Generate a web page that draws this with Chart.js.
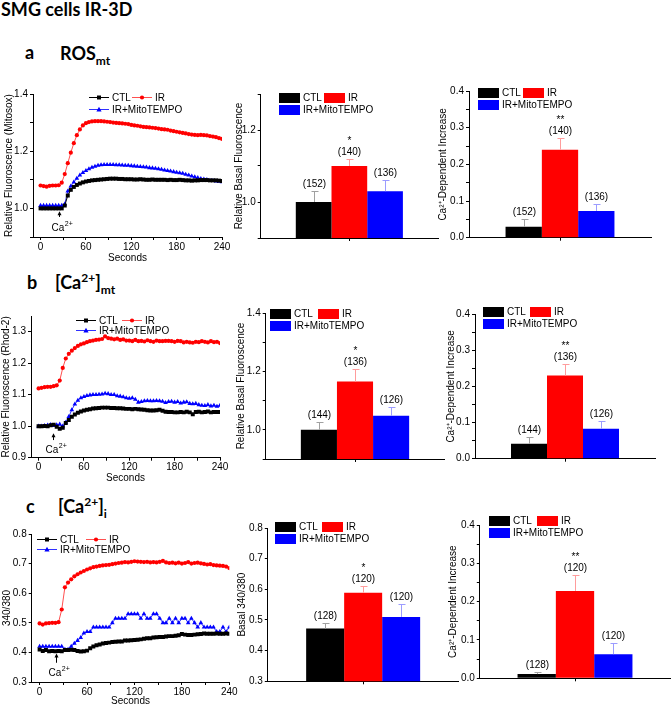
<!DOCTYPE html>
<html>
<head>
<meta charset="utf-8">
<title>SMG cells IR-3D</title>
<script src="https://cdn.jsdelivr.net/npm/chart.js@4.4.1/dist/chart.umd.min.js"></script>
<style>
  html, body { margin: 0; padding: 0; background: #fff; overflow: hidden; }
  #page { position: relative; width: 671px; height: 706px; }
  canvas { position: absolute; }
  .hd { position: absolute; font-family: Lato, "Open Sans", sans-serif; font-weight: 700; font-size: 18px; line-height: 1; color: #000; white-space: nowrap; }
  .hd sub, .hd sup { font-size: 12px; line-height: 0; }
</style>
</head>
<body>
<div id="page">
  <div class="hd" style="left:1px;top:0px">SMG cells IR-3D</div>
  <div class="hd" style="left:25px;top:43px">a</div>
  <div class="hd" style="left:60px;top:44px">ROS<sub>mt</sub></div>
  <div class="hd" style="left:27px;top:273px">b</div>
  <div class="hd" style="left:55px;top:273px">[Ca<sup>2+</sup>]<sub>mt</sub></div>
  <div class="hd" style="left:26px;top:497px">c</div>
  <div class="hd" style="left:58px;top:497px">[Ca<sup>2+</sup>]<sub>i</sub></div>
  <canvas id="a1"></canvas>
  <canvas id="a2"></canvas>
  <canvas id="a3"></canvas>
  <canvas id="b1"></canvas>
  <canvas id="b2"></canvas>
  <canvas id="b3"></canvas>
  <canvas id="c1"></canvas>
  <canvas id="c2"></canvas>
  <canvas id="c3"></canvas>
</div>
<script>
const groups = ['CTL', 'IR', 'IR+MitoTEMPO'];

const seconds = [0, 4, 8, 12, 16, 20, 24, 28, 32, 36, 40, 44, 48, 52, 56, 60, 64, 68, 72, 76,
  80, 84, 88, 92, 96, 100, 104, 108, 112, 116, 120, 124, 128, 132, 136, 140, 144, 148, 152, 156,
  160, 164, 168, 172, 176, 180, 184, 188, 192, 196, 200, 204, 208, 212, 216, 220, 224, 228, 232, 236, 240];
const timeTicks = [0, 30, 60, 90, 120, 150, 180, 210, 240];
const timeLabels = [0, 60, 120, 180, 240];

// a: ROSmt (Mitosox)
const rosCtl = [1.000, 1.000, 1.000, 1.000, 1.000, 1.000, 1.000, 1.000, 1.010, 1.045,
  1.065, 1.075, 1.082, 1.087, 1.091, 1.094, 1.096, 1.098, 1.099, 1.100,
  1.101, 1.102, 1.103, 1.104, 1.104, 1.104, 1.103, 1.103, 1.102, 1.102,
  1.102, 1.101, 1.101, 1.102, 1.101, 1.100, 1.100, 1.101, 1.100, 1.100,
  1.100, 1.100, 1.099, 1.100, 1.099, 1.099, 1.100, 1.099, 1.098, 1.098,
  1.097, 1.098, 1.098, 1.099, 1.099, 1.099, 1.098, 1.098, 1.098, 1.097, 1.096];
const rosIr = [1.080, 1.078, 1.076, 1.079, 1.080, 1.080, 1.081, 1.090, 1.120, 1.158,
  1.195, 1.228, 1.256, 1.276, 1.290, 1.298, 1.302, 1.304, 1.305, 1.305,
  1.305, 1.304, 1.303, 1.302, 1.300, 1.299, 1.298, 1.297, 1.296, 1.295,
  1.292, 1.290, 1.289, 1.287, 1.285, 1.284, 1.283, 1.282, 1.281, 1.279,
  1.277, 1.276, 1.275, 1.272, 1.270, 1.268, 1.266, 1.264, 1.262, 1.260,
  1.258, 1.257, 1.256, 1.257, 1.256, 1.255, 1.253, 1.251, 1.249, 1.246, 1.243];
const rosMito = [1.010, 1.010, 1.010, 1.010, 1.010, 1.010, 1.010, 1.010, 1.015, 1.060,
  1.078, 1.092, 1.105, 1.116, 1.125, 1.132, 1.138, 1.143, 1.147, 1.150,
  1.152, 1.153, 1.153, 1.153, 1.153, 1.152, 1.152, 1.151, 1.150, 1.150,
  1.149, 1.148, 1.147, 1.146, 1.145, 1.144, 1.142, 1.141, 1.140, 1.138,
  1.136, 1.134, 1.132, 1.130, 1.128, 1.126, 1.124, 1.122, 1.119, 1.116,
  1.113, 1.110, 1.107, 1.104, 1.102, 1.100, 1.098, 1.097, 1.095, 1.094, 1.093];

// b: [Ca2+]mt (Rhod-2)
const mtCtl = [1.000, 1.000, 1.001, 1.000, 1.003, 1.005, 0.998, 0.992, 0.995, 1.010,
  1.020, 1.030, 1.037, 1.043, 1.047, 1.050, 1.052, 1.054, 1.056, 1.057,
  1.058, 1.059, 1.059, 1.059, 1.058, 1.058, 1.057, 1.057, 1.056, 1.055,
  1.055, 1.054, 1.055, 1.054, 1.053, 1.052, 1.051, 1.050, 1.050, 1.051,
  1.052, 1.049, 1.046, 1.045, 1.045, 1.044, 1.044, 1.045, 1.044, 1.046,
  1.044, 1.038, 1.045, 1.046, 1.044, 1.045, 1.047, 1.044, 1.045, 1.045, 1.045];
const mtIr = [1.120, 1.122, 1.124, 1.125, 1.125, 1.127, 1.130, 1.145, 1.185, 1.215,
  1.230, 1.240, 1.248, 1.255, 1.260, 1.263, 1.267, 1.270, 1.272, 1.274,
  1.275, 1.277, 1.285, 1.280, 1.278, 1.276, 1.278, 1.274, 1.276, 1.272,
  1.272, 1.270, 1.274, 1.270, 1.271, 1.269, 1.273, 1.270, 1.268, 1.272,
  1.270, 1.270, 1.271, 1.271, 1.270, 1.268, 1.271, 1.270, 1.266, 1.268,
  1.266, 1.265, 1.268, 1.267, 1.270, 1.268, 1.266, 1.270, 1.267, 1.268, 1.264];
const mtMito = [1.000, 1.000, 1.002, 1.003, 1.005, 1.002, 1.004, 1.006, 1.000, 1.012,
  1.030, 1.052, 1.070, 1.082, 1.090, 1.094, 1.097, 1.099, 1.100, 1.100,
  1.101, 1.102, 1.104, 1.103, 1.100, 1.100, 1.096, 1.095, 1.093, 1.090,
  1.088, 1.090, 1.085, 1.076, 1.078, 1.080, 1.081, 1.080, 1.080, 1.081,
  1.080, 1.079, 1.075, 1.078, 1.079, 1.076, 1.078, 1.073, 1.076, 1.077,
  1.072, 1.071, 1.072, 1.068, 1.066, 1.065, 1.068, 1.064, 1.066, 1.063, 1.066];

// c: [Ca2+]i (340/380)
const cytCtl = [0.410, 0.405, 0.408, 0.404, 0.405, 0.404, 0.405, 0.404, 0.408, 0.408,
  0.409, 0.408, 0.405, 0.403, 0.404, 0.406, 0.414, 0.420, 0.424, 0.427,
  0.430, 0.432, 0.433, 0.435, 0.436, 0.437, 0.437, 0.440, 0.440, 0.441,
  0.442, 0.443, 0.444, 0.446, 0.448, 0.448, 0.450, 0.451, 0.452, 0.452,
  0.454, 0.455, 0.455, 0.456, 0.458, 0.462, 0.460, 0.459, 0.459, 0.460,
  0.461, 0.462, 0.464, 0.463, 0.463, 0.463, 0.464, 0.463, 0.463, 0.464, 0.463];
const cytIr = [0.498, 0.494, 0.498, 0.499, 0.500, 0.500, 0.502, 0.545, 0.620, 0.636,
  0.647, 0.657, 0.664, 0.670, 0.675, 0.680, 0.684, 0.688, 0.690, 0.692,
  0.694, 0.695, 0.696, 0.698, 0.700, 0.702, 0.703, 0.705, 0.704, 0.706,
  0.708, 0.707, 0.706, 0.705, 0.706, 0.704, 0.705, 0.704, 0.706, 0.709,
  0.704, 0.702, 0.703, 0.701, 0.703, 0.700, 0.702, 0.705, 0.700, 0.702,
  0.703, 0.701, 0.699, 0.697, 0.698, 0.695, 0.694, 0.693, 0.692, 0.690, 0.685];
const cytMito = [0.420, 0.420, 0.420, 0.420, 0.420, 0.420, 0.420, 0.420, 0.410, 0.410,
  0.420, 0.430, 0.440, 0.450, 0.465, 0.470, 0.470, 0.485, 0.485, 0.485,
  0.485, 0.485, 0.485, 0.500, 0.515, 0.515, 0.515, 0.515, 0.530, 0.530,
  0.530, 0.530, 0.515, 0.530, 0.515, 0.515, 0.530, 0.530, 0.515, 0.500,
  0.500, 0.515, 0.500, 0.515, 0.500, 0.515, 0.515, 0.500, 0.515, 0.500,
  0.485, 0.500, 0.485, 0.485, 0.485, 0.485, 0.470, 0.470, 0.485, 0.470, 0.485];

// bar summaries
const aBasal = [1.00, 1.10, 1.03];
const aBasalErr = [0.03, 0.02, 0.03];
const aIncrease = [0.03, 0.24, 0.073];
const aIncreaseErr = [0.02, 0.031, 0.019];
const aCells = [152, 140, 136];
const bBasal = [1.00, 1.165, 1.048];
const bBasalErr = [0.028, 0.043, 0.03];
const bIncrease = [0.041, 0.23, 0.083];
const bIncreaseErr = [0.02, 0.031, 0.022];
const bCells = [144, 136, 126];
const cBasal = [0.472, 0.589, 0.51];
const cBasalErr = [0.019, 0.021, 0.043];
const cIncrease = [0.011, 0.228, 0.063];
const cIncreaseErr = [0.005, 0.041, 0.03];
const cCells = [128, 120, 120];
const basalStars = ['', '*', ''];
const increaseStars = ['', '**', ''];

const incTicks = [0, 0.05, 0.1, 0.15, 0.2, 0.25, 0.3, 0.35, 0.4];
const incLabels = [0, 0.1, 0.2, 0.3, 0.4];

const fills = ['#000000', '#ff0000', '#0000ff'];
const lineColors = ['#000000', '#ff5050', '#3030ff'];
const errColors = ['#a0a0a0', '#ff9c9c', '#9c9cff'];
const pointStyles = ['rect', 'circle', 'triangle'];
const pointRadii = [2.8, 2.1, 2.7];

const FONT = '"Liberation Sans", Arial, Helvetica, sans-serif';
Chart.defaults.font.family = FONT;
Chart.defaults.font.size = 10;
Chart.defaults.color = '#000';
Chart.defaults.animation = false;

function place(id, f) {
  const cv = document.getElementById(id);
  const cx = f.titleX - 6, cy = f.T - 14;
  const bottom = f.titleY ? f.titleY + 6 : f.B + 12;
  const w = Math.ceil(f.R + 16 - cx), h = Math.ceil(bottom - cy);
  cv.width = w; cv.height = h;
  cv.style.left = cx + 'px'; cv.style.top = cy + 'px';
  cv.style.width = w + 'px'; cv.style.height = h + 'px';
  return { cv, cx, cy, yW: f.L - cx, xH: h - (f.B - cy), padR: w - (f.R - cx) };
}

function yAxis(fr, min, max, ticks, majors, title) {
  return {
    min, max,
    afterBuildTicks: s => { s.ticks = ticks.map(v => ({ value: v })); },
    afterFit: s => { s.width = fr.yW; s.paddingTop = 0; s.paddingBottom = 0; },
    ticks: { autoSkip: false, padding: 2, color: '#000', callback: v => majors.includes(v) ? v.toFixed(1) : '' },
    grid: { drawOnChartArea: false, drawTicks: true, tickLength: 3, tickColor: '#000', tickWidth: 1 },
    border: { display: true, color: '#000', width: 1 },
    title: { display: true, text: title, padding: 0, color: '#000', font: { size: 10 } }
  };
}

function marker(ctx, style, x, y) {
  ctx.beginPath();
  if (style === 'rect') ctx.rect(x - 2, y - 2, 4, 4);
  else if (style === 'circle') ctx.arc(x, y, 2.1, 0, Math.PI * 2);
  else { ctx.moveTo(x, y - 2.8); ctx.lineTo(x + 2.6, y + 1.9); ctx.lineTo(x - 2.6, y + 1.9); ctx.closePath(); }
  ctx.fill();
}

function lineLegend(fr, pos) {
  return {
    id: 'lineLegend',
    afterDraw(chart) {
      const ctx = chart.ctx;
      ctx.save();
      ctx.font = '10px ' + FONT;
      ctx.textBaseline = 'middle';
      const rows = [[0, pos.x, pos.y], [1, pos.x + pos.irDx, pos.y], [2, pos.x, pos.y + pos.gap]];
      rows.forEach(([i, px, py]) => {
        const x = px - fr.cx, y = Math.round(py - fr.cy) + 0.5;
        ctx.strokeStyle = lineColors[i];
        ctx.lineWidth = 1;
        ctx.beginPath(); ctx.moveTo(x, y); ctx.lineTo(x + 20, y); ctx.stroke();
        ctx.fillStyle = fills[i];
        marker(ctx, pointStyles[i], x + 10, y);
        ctx.fillStyle = '#000';
        ctx.fillText(groups[i], x + 23, y + 0.5);
      });
      ctx.restore();
    }
  };
}

function caArrow(a) {
  return {
    id: 'caArrow',
    afterDraw(chart) {
      const { ctx, scales: { x, y } } = chart;
      const px = Math.round(x.getPixelForValue(a.t)) + 0.5;
      const y1 = y.getPixelForValue(a.head), y2 = y.getPixelForValue(a.tail);
      ctx.save();
      ctx.strokeStyle = '#000'; ctx.fillStyle = '#000'; ctx.lineWidth = 1;
      ctx.beginPath(); ctx.moveTo(px, y1 + 2); ctx.lineTo(px, y2); ctx.stroke();
      ctx.beginPath(); ctx.moveTo(px, y1); ctx.lineTo(px - 2, y1 + 4); ctx.lineTo(px + 2, y1 + 4); ctx.closePath(); ctx.fill();
      const ty = y.getPixelForValue(a.text);
      ctx.font = '10px ' + FONT; ctx.textBaseline = 'middle'; ctx.textAlign = 'left';
      const tx = px - 8;
      ctx.fillText('Ca', tx, ty);
      const w = ctx.measureText('Ca').width;
      ctx.font = '7px ' + FONT;
      ctx.fillText('2+', tx + w + 0.5, ty - 4);
      ctx.restore();
    }
  };
}

function barNotes(err, cells, stars) {
  return {
    id: 'barNotes',
    afterDatasetsDraw(chart) {
      const { ctx, scales: { y } } = chart;
      ctx.save();
      chart.data.datasets.forEach((ds, i) => {
        const bar = chart.getDatasetMeta(i).data[0];
        const v = ds.data[0];
        const x = Math.round(bar.x) + 0.5;
        const y0 = y.getPixelForValue(v);
        const y1 = Math.round(y.getPixelForValue(v + err[i])) + 0.5;
        ctx.strokeStyle = errColors[i]; ctx.lineWidth = 1;
        ctx.beginPath();
        ctx.moveTo(x, y0); ctx.lineTo(x, y1);
        ctx.moveTo(x - 3, y1); ctx.lineTo(x + 4, y1);
        ctx.stroke();
        ctx.fillStyle = '#000';
        ctx.font = '10px ' + FONT;
        ctx.textAlign = 'center';
        ctx.textBaseline = 'alphabetic';
        ctx.fillText('(' + cells[i] + ')', x, y1 - 5);
        if (stars[i]) ctx.fillText(stars[i], x, y1 - 16);
      });
      ctx.restore();
    }
  };
}

function barLegend(fr, pos) {
  return {
    id: 'barLegend',
    afterDraw(chart) {
      const ctx = chart.ctx;
      ctx.save();
      ctx.font = '10px ' + FONT;
      ctx.textBaseline = 'middle';
      const rows = [[0, pos.x, pos.y], [1, pos.x + pos.dx, pos.y], [2, pos.x, pos.y + 12]];
      rows.forEach(([i, px, py]) => {
        const x = Math.round(px - fr.cx), y = Math.round(py - fr.cy);
        ctx.fillStyle = fills[i];
        ctx.fillRect(x, y, 21, 10);
        ctx.fillStyle = '#000';
        ctx.fillText(groups[i], x + 24, y + 5.5);
      });
      ctx.restore();
    }
  };
}

function lineChart(id, f, o) {
  const fr = place(id, f);
  new Chart(fr.cv, {
    type: 'line',
    data: {
      datasets: o.series.map((s, i) => ({
        label: groups[i],
        data: seconds.map((t, k) => ({ x: t, y: s[k] })),
        borderColor: lineColors[i],
        backgroundColor: fills[i],
        pointBackgroundColor: fills[i],
        borderWidth: 1,
        pointStyle: pointStyles[i],
        pointRadius: pointRadii[i],
        pointBorderWidth: 0,
        tension: 0
      }))
    },
    options: {
      responsive: false, devicePixelRatio: 1, animation: false,
      layout: { padding: { top: 14, right: fr.padR, left: 0, bottom: 0 } },
      plugins: { legend: { display: false }, tooltip: { enabled: false } },
      scales: {
        x: {
          type: 'linear', min: -10, max: 240,
          afterBuildTicks: s => { s.ticks = timeTicks.map(v => ({ value: v })); },
          afterFit: s => { s.height = fr.xH; s.paddingLeft = 0; s.paddingRight = 0; },
          ticks: { autoSkip: false, maxRotation: 0, padding: 1, color: '#000', callback: v => timeLabels.includes(v) ? String(v) : '' },
          grid: { drawOnChartArea: false, drawTicks: true, tickLength: 3, tickColor: '#000' },
          border: { display: true, color: '#000', width: 1 },
          title: { display: true, text: 'Seconds', padding: 0, color: '#000', font: { size: 10 } }
        },
        y: yAxis(fr, o.min, o.max, o.ticks, o.majors, o.title)
      }
    },
    plugins: [lineLegend(fr, o.legend), caArrow(o.arrow)]
  });
}

function barChart(id, f, o) {
  const fr = place(id, f);
  const cp = 3 * o.barW / (f.R - f.L);
  new Chart(fr.cv, {
    type: 'bar',
    data: {
      labels: [''],
      datasets: groups.map((g, i) => ({
        label: g, data: [o.values[i]], backgroundColor: fills[i], borderWidth: 0,
        categoryPercentage: cp, barPercentage: 1
      }))
    },
    options: {
      responsive: false, devicePixelRatio: 1, animation: false,
      layout: { padding: { top: 14, right: fr.padR, left: 0, bottom: 0 } },
      plugins: { legend: { display: false }, tooltip: { enabled: false } },
      scales: {
        x: {
          offset: true,
          afterFit: s => { s.height = fr.xH; s.paddingLeft = 0; s.paddingRight = 0; },
          ticks: { callback: () => '' },
          grid: { offset: false, drawOnChartArea: false, drawTicks: true, tickLength: 3, tickColor: '#000' },
          border: { display: true, color: '#000', width: 1 }
        },
        y: yAxis(fr, o.min, o.max, o.ticks, o.majors, o.title)
      }
    },
    plugins: [barNotes(o.err, o.cells, o.stars), barLegend(fr, o.legend)]
  });
}

// row a
lineChart('a1', { L: 33, T: 94, R: 222, B: 237, titleX: 9, titleY: 258 }, {
  series: [rosCtl, rosIr, rosMito], min: 0.9, max: 1.4,
  ticks: [0.9, 1.0, 1.1, 1.2, 1.3, 1.4], majors: [1.0, 1.2, 1.4],
  title: 'Relative Fluoroscence (Mitosox)',
  legend: { x: 89, y: 97, irDx: 43, gap: 11.5 },
  arrow: { t: 25, head: 0.99, tail: 0.97, text: 0.93 }
});
barChart('a2', { L: 260.7, T: 94, R: 438, B: 238, titleX: 239 }, {
  values: aBasal, err: aBasalErr, cells: aCells, stars: basalStars, barW: 35.7,
  min: 0.9, max: 1.3, ticks: [0.9, 1.0, 1.1, 1.2, 1.3], majors: [1.0, 1.2],
  title: 'Relative Basal Fluoroscence',
  legend: { x: 279, y: 93, dx: 45 }
});
barChart('a3', { L: 469, T: 91, R: 651, B: 237.7, titleX: 443 }, {
  values: aIncrease, err: aIncreaseErr, cells: aCells, stars: increaseStars, barW: 36.3,
  min: 0, max: 0.4, ticks: incTicks, majors: incLabels,
  title: 'Ca\u00B2\u207A-Dependent Increase',
  legend: { x: 478, y: 88, dx: 45 }
});

// row b
lineChart('b1', { L: 31, T: 316, R: 220, B: 457.7, titleX: 6, titleY: 478 }, {
  series: [mtCtl, mtIr, mtMito], min: 0.9, max: 1.35,
  ticks: [0.9, 1.0, 1.1, 1.2, 1.3], majors: [0.9, 1.0, 1.1, 1.2, 1.3],
  title: 'Relative Fluoroscence (Rhod-2)',
  legend: { x: 76, y: 320, irDx: 46, gap: 10 },
  arrow: { t: 19, head: 0.978, tail: 0.956, text: 0.924 }
});
barChart('b2', { L: 265.7, T: 313.3, R: 444.3, B: 459.3, titleX: 241 }, {
  values: bBasal, err: bBasalErr, cells: bCells, stars: basalStars, barW: 36.1,
  min: 0.9, max: 1.4, ticks: [0.9, 1.0, 1.1, 1.2, 1.3, 1.4], majors: [1.0, 1.2, 1.4],
  title: 'Relative Basal Fluoroscence',
  legend: { x: 270, y: 309, dx: 48 }
});
barChart('b3', { L: 475, T: 314.3, R: 655, B: 459, titleX: 451 }, {
  values: bIncrease, err: bIncreaseErr, cells: bCells, stars: increaseStars, barW: 36,
  min: 0, max: 0.4, ticks: incTicks, majors: incLabels,
  title: 'Ca\u00B2\u207A-Dependent Increase',
  legend: { x: 483, y: 307, dx: 47 }
});

// row c
lineChart('c1', { L: 31.7, T: 534.3, R: 229.3, B: 682.3, titleX: 7, titleY: 700.7 }, {
  series: [cytCtl, cytIr, cytMito], min: 0.3, max: 0.8,
  ticks: [0.3, 0.4, 0.5, 0.6, 0.7, 0.8], majors: [0.3, 0.4, 0.5, 0.6, 0.7, 0.8],
  title: '340/380',
  legend: { x: 37, y: 539, irDx: 49, gap: 10.3 },
  arrow: { t: 21, head: 0.396, tail: 0.365, text: 0.331 }
});
barChart('c2', { L: 267.3, T: 527.7, R: 458, B: 681, titleX: 241.5 }, {
  values: cBasal, err: cBasalErr, cells: cCells, stars: basalStars, barW: 38,
  min: 0.3, max: 0.8, ticks: [0.3, 0.4, 0.5, 0.6, 0.7, 0.8], majors: [0.3, 0.4, 0.5, 0.6, 0.7, 0.8],
  title: 'Basal 340/380',
  legend: { x: 274, y: 522, dx: 47 }
});
barChart('c3', { L: 479.3, T: 525, R: 669.7, B: 678.3, titleX: 452.5 }, {
  values: cIncrease, err: cIncreaseErr, cells: cCells, stars: increaseStars, barW: 38.3,
  min: 0, max: 0.4, ticks: incTicks, majors: incLabels,
  title: 'Ca\u00B2\u207A-Dependent Increase',
  legend: { x: 488, y: 516, dx: 48 }
});
</script>
</body>
</html>
